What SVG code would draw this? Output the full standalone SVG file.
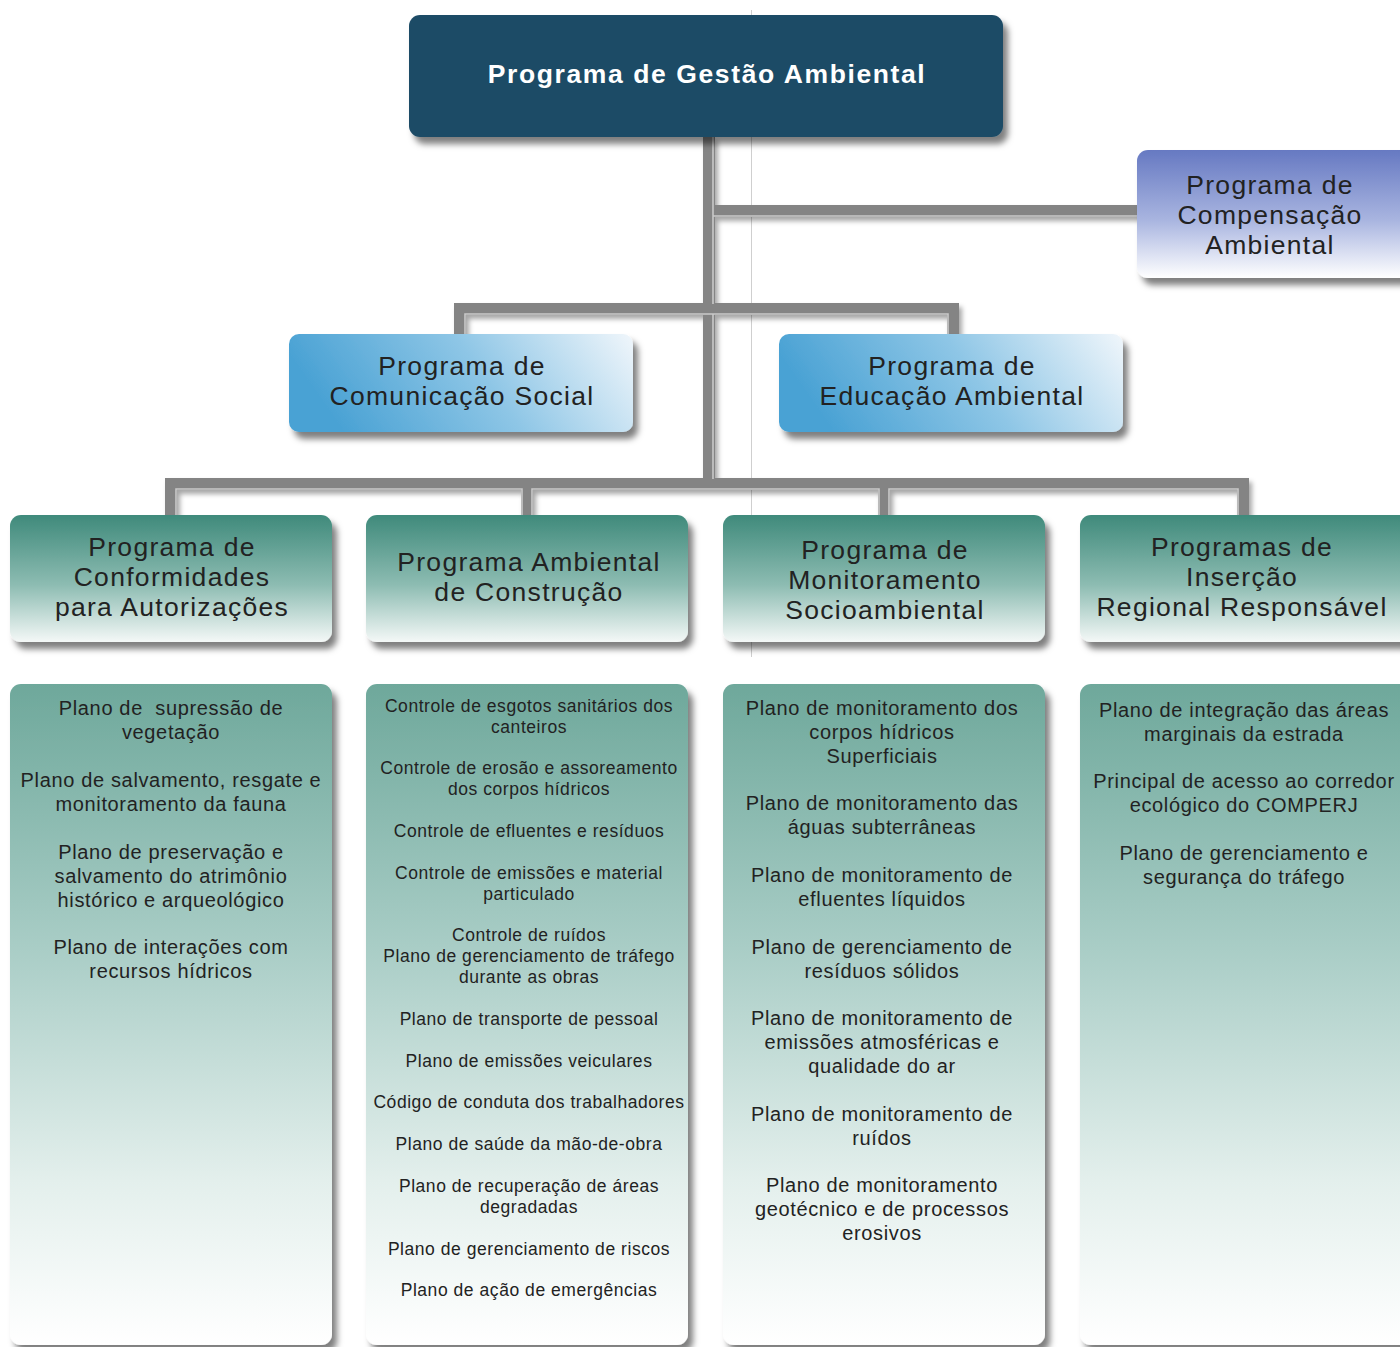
<svg xmlns="http://www.w3.org/2000/svg" width="1400" height="1347" viewBox="0 0 1400 1347">
<defs>
<style>
text{font-family:"Liberation Sans",Arial,sans-serif;text-anchor:middle;fill:#222}
.h{font-size:26.5px;letter-spacing:1.3px}
.b{font-size:20px;letter-spacing:0.65px}
.s{font-size:17.5px;letter-spacing:0.55px}
.top{font-size:26.5px;font-weight:bold;fill:#fff;letter-spacing:1.6px}
.pipe{fill:none;stroke:#848484;stroke-width:12;stroke-linejoin:miter}
.hl{fill:none;stroke:#c9c9c9;stroke-width:1.6}
</style>
<filter id="sh" x="-10%" y="-10%" width="130%" height="140%">
<feDropShadow dx="5" dy="7" stdDeviation="3" flood-color="#000" flood-opacity="0.5"/>
</filter>
<filter id="psh" x="-5%" y="-5%" width="110%" height="130%">
<feDropShadow dx="3" dy="4" stdDeviation="2.5" flood-color="#000" flood-opacity="0.35"/>
</filter>
<linearGradient id="comp" x1="0" y1="0" x2="0" y2="1">
<stop offset="0" stop-color="#6679c2"/>
<stop offset="0.55" stop-color="#a9b5e0"/>
<stop offset="1" stop-color="#ffffff"/>
</linearGradient>
<linearGradient id="blue" x1="0" y1="0.2" x2="1" y2="0">
<stop offset="0" stop-color="#4aa2d4"/>
<stop offset="0.5" stop-color="#8ec6e6"/>
<stop offset="1" stop-color="#f0f6fb"/>
</linearGradient>
<linearGradient id="teal" x1="0" y1="0" x2="0" y2="1">
<stop offset="0" stop-color="#3f8a7b"/>
<stop offset="0.55" stop-color="#8dbcb2"/>
<stop offset="1" stop-color="#f4f8f7"/>
</linearGradient>
<linearGradient id="body" x1="0" y1="0" x2="0" y2="1">
<stop offset="0" stop-color="#6ea89b"/>
<stop offset="0.4" stop-color="#a9cdc6"/>
<stop offset="0.75" stop-color="#e3efec"/>
<stop offset="1" stop-color="#ffffff"/>
</linearGradient>
</defs>
<rect width="1400" height="1347" fill="#fff"/>
<line x1="751.5" y1="10" x2="751.5" y2="657" stroke="#cfcfcf" stroke-width="1"/>
<g id="connectors">
<g filter="url(#psh)">
<path class="pipe" d="M709 137V484"/>
<path class="pipe" d="M709 211H1140"/>
<path class="pipe" d="M460 336V309H953V336"/>
<path class="pipe" d="M171 517V484H1243V517M527 484V517M884 484V517"/>
</g>
<path class="hl" d="M713 216H1140M465 336V314H948V336M176 517V489H522V517M532 517V489H879V517M889 517V489H1238V517M713 137V304M713 314V479"/>
</g>
<g id="n-gestao">
<rect x="409" y="15" width="594" height="122" rx="11" fill="#1f4c66" filter="url(#sh)"/>
<text class="top" x="707" y="83">Programa de Gestão Ambiental</text>
</g>
<g id="n-compensacao">
<rect x="1137" y="150" width="280" height="128" rx="11" fill="url(#comp)" filter="url(#sh)"/>
<text class="h" x="1270" y="194">Programa de</text>
<text class="h" x="1270" y="224">Compensação</text>
<text class="h" x="1270" y="254">Ambiental</text>
</g>
<g id="n-comunicacao">
<rect x="289" y="334" width="344" height="98" rx="10" fill="url(#blue)" filter="url(#sh)"/>
<text class="h" x="462" y="375">Programa de</text>
<text class="h" x="462" y="405">Comunicação Social</text>
</g>
<g id="n-educacao">
<rect x="779" y="334" width="344" height="98" rx="10" fill="url(#blue)" filter="url(#sh)"/>
<text class="h" x="952" y="375">Programa de</text>
<text class="h" x="952" y="405">Educação Ambiental</text>
</g>
<g id="n-conformidades">
<rect x="10" y="515" width="322" height="127" rx="11" fill="url(#teal)" filter="url(#sh)"/>
<text class="h" x="172" y="556">Programa de</text>
<text class="h" x="172" y="586">Conformidades</text>
<text class="h" x="172" y="616">para Autorizações</text>
</g>
<g id="n-construcao">
<rect x="366" y="515" width="322" height="127" rx="11" fill="url(#teal)" filter="url(#sh)"/>
<text class="h" x="529" y="571">Programa Ambiental</text>
<text class="h" x="529" y="601">de Construção</text>
</g>
<g id="n-monitoramento">
<rect x="723" y="515" width="322" height="127" rx="11" fill="url(#teal)" filter="url(#sh)"/>
<text class="h" x="885" y="559">Programa de</text>
<text class="h" x="885" y="589">Monitoramento</text>
<text class="h" x="885" y="619">Socioambiental</text>
</g>
<g id="n-insercao">
<rect x="1080" y="515" width="340" height="127" rx="11" fill="url(#teal)" filter="url(#sh)"/>
<text class="h" x="1242" y="556">Programas de</text>
<text class="h" x="1242" y="586">Inserção</text>
<text class="h" x="1242" y="616">Regional Responsável</text>
</g>
<g id="n-list-conformidades">
<rect x="10" y="684" width="322" height="661" rx="11" fill="url(#body)" filter="url(#sh)"/>
<text class="b" x="171" y="715" style="white-space:pre" xml:space="preserve">Plano de  supressão de</text>
<text class="b" x="171" y="739">vegetação</text>
<text class="b" x="171" y="787">Plano de salvamento, resgate e</text>
<text class="b" x="171" y="811">monitoramento da fauna</text>
<text class="b" x="171" y="859">Plano de preservação e</text>
<text class="b" x="171" y="883">salvamento do atrimônio</text>
<text class="b" x="171" y="907">histórico e arqueológico</text>
<text class="b" x="171" y="954">Plano de interações com</text>
<text class="b" x="171" y="978">recursos hídricos</text>
</g>
<g id="n-list-construcao">
<rect x="366" y="684" width="322" height="661" rx="11" fill="url(#body)" filter="url(#sh)"/>
<text class="s" x="529" y="712">Controle de esgotos sanitários dos</text>
<text class="s" x="529" y="733">canteiros</text>
<text class="s" x="529" y="774">Controle de erosão e assoreamento</text>
<text class="s" x="529" y="795">dos corpos hídricos</text>
<text class="s" x="529" y="837">Controle de efluentes e resíduos</text>
<text class="s" x="529" y="879">Controle de emissões e material</text>
<text class="s" x="529" y="900">particulado</text>
<text class="s" x="529" y="941">Controle de ruídos</text>
<text class="s" x="529" y="962">Plano de gerenciamento de tráfego</text>
<text class="s" x="529" y="983">durante as obras</text>
<text class="s" x="529" y="1025">Plano de transporte de pessoal</text>
<text class="s" x="529" y="1067">Plano de emissões veiculares</text>
<text class="s" x="529" y="1108">Código de conduta dos trabalhadores</text>
<text class="s" x="529" y="1150">Plano de saúde da mão-de-obra</text>
<text class="s" x="529" y="1192">Plano de recuperação de áreas</text>
<text class="s" x="529" y="1213">degradadas</text>
<text class="s" x="529" y="1255">Plano de gerenciamento de riscos</text>
<text class="s" x="529" y="1296">Plano de ação de emergências</text>
</g>
<g id="n-list-monitoramento">
<rect x="723" y="684" width="322" height="661" rx="11" fill="url(#body)" filter="url(#sh)"/>
<text class="b" x="882" y="715">Plano de monitoramento dos</text>
<text class="b" x="882" y="739">corpos hídricos</text>
<text class="b" x="882" y="763">Superficiais</text>
<text class="b" x="882" y="810">Plano de monitoramento das</text>
<text class="b" x="882" y="834">águas subterrâneas</text>
<text class="b" x="882" y="882">Plano de monitoramento de</text>
<text class="b" x="882" y="906">efluentes líquidos</text>
<text class="b" x="882" y="954">Plano de gerenciamento de</text>
<text class="b" x="882" y="978">resíduos sólidos</text>
<text class="b" x="882" y="1025">Plano de monitoramento de</text>
<text class="b" x="882" y="1049">emissões atmosféricas e</text>
<text class="b" x="882" y="1073">qualidade do ar</text>
<text class="b" x="882" y="1121">Plano de monitoramento de</text>
<text class="b" x="882" y="1145">ruídos</text>
<text class="b" x="882" y="1192">Plano de monitoramento</text>
<text class="b" x="882" y="1216">geotécnico e de processos</text>
<text class="b" x="882" y="1240">erosivos</text>
</g>
<g id="n-list-insercao">
<rect x="1080" y="684" width="340" height="661" rx="11" fill="url(#body)" filter="url(#sh)"/>
<text class="b" x="1244" y="717">Plano de integração das áreas</text>
<text class="b" x="1244" y="741">marginais da estrada</text>
<text class="b" x="1244" y="788">Principal de acesso ao corredor</text>
<text class="b" x="1244" y="812">ecológico do COMPERJ</text>
<text class="b" x="1244" y="860">Plano de gerenciamento e</text>
<text class="b" x="1244" y="884">segurança do tráfego</text>
</g>
</svg>
